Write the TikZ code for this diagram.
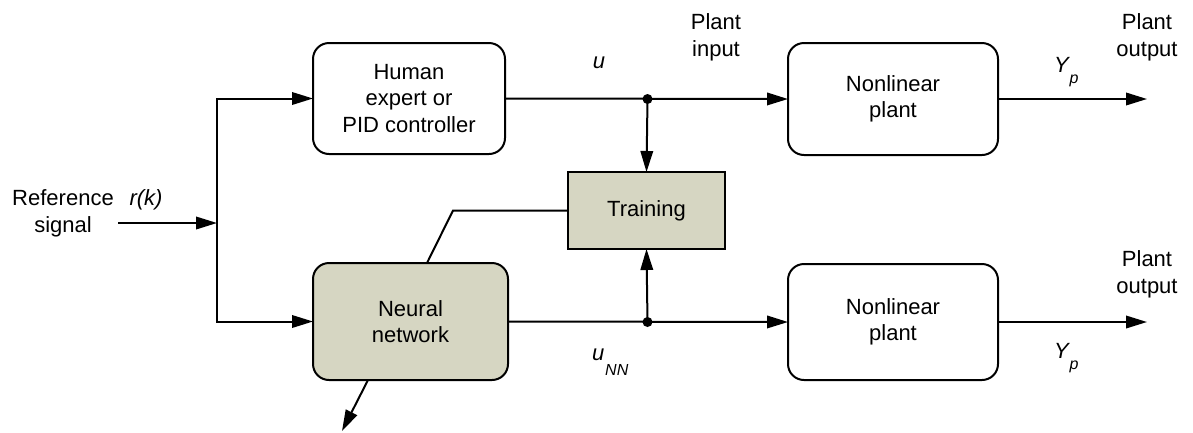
\documentclass[tikz,border=0pt]{standalone}
\usepackage{fontspec}
\setmainfont{Liberation Sans}
\usetikzlibrary{arrows.meta,calc}
\definecolor{tan}{RGB}{214,214,194}
\begin{document}
\begin{tikzpicture}[x=1pt,y=-1pt,
  every node/.style={inner sep=0pt,outer sep=0pt},
  txt/.style={font=\fontsize{22}{26.5}\selectfont,align=center},
  blk/.style={draw,line width=2pt,rounded corners=16pt,txt,fill=white},
  trn/.style={draw,line width=2pt,txt,fill=tan},
  conn/.style={line width=2pt},
  arr/.style={conn,-{Triangle[length=21pt,width=12.5pt]}},
  dotc/.style={fill=black}]
\useasboundingbox (0,0) rectangle (1193,432);
% blocks
\node[blk,minimum width=192pt,minimum height=111pt] (human) at (409,98.5) {Human\\expert or\\PID controller};
\node[blk,fill=tan,minimum width=195pt,minimum height=117pt] (nn) at (410.5,321.5) {Neural\\network};
\node[trn,minimum width=157pt,minimum height=77pt] (train) at (646.5,210.5) {Training};
\node[blk,minimum width=210pt,minimum height=112pt] (plant1) at (893,99) {Nonlinear\\plant};
\node[blk,minimum width=210pt,minimum height=116pt] (plant2) at (893,322) {Nonlinear\\plant};
% coordinates
\coordinate (rin) at (118,223);
\coordinate (split) at (217,223);
\coordinate (d1) at (647.5,99);
\coordinate (d2) at (647.5,322);
\coordinate (out1) at (1147,99);
\coordinate (out2) at (1147,322);
\coordinate (nnout) at (342,431);
\coordinate (bend) at (453,210.5);
% connectors
\draw[arr] (rin) -- (split);
\draw[arr] (split) |- (human.west);
\draw[arr] (split) |- (nn.west);
\draw[arr] (human.east) -- (plant1.west);
\draw[arr] (nn.east) -- (plant2.west);
\draw[arr] (d1) -- (train.north);
\draw[arr] (d2) -- (train.south);
\draw[arr] (plant1.east) -- (out1);
\draw[arr] (plant2.east) -- (out2);
\draw[arr] ($(nn.south)+(-42.5,0)$) -- (nnout);
\draw[conn] (train.west) -- (bend) -- ($(nn.north)+(16.5,0)$);
\fill[dotc] (d1) circle (5pt);
\fill[dotc] (d2) circle (5pt);
% labels
\node[txt] (reflbl) at (63,213.5) {Reference\\signal};
\node[txt,anchor=base,font=\fontsize{22}{26.5}\selectfont\itshape] (rk) at (146,205) {r(k)};
\node[txt,anchor=base,font=\fontsize{22}{26.5}\selectfont\itshape] (ulbl) at (599,68) {u};
\node[txt,anchor=base west,font=\fontsize{22}{26.5}\selectfont\itshape] (unn) at (592,360) {u\hspace{1pt}\raisebox{-15pt}{\fontsize{16}{16}\selectfont NN}};
\node[txt] (pin) at (716,37.5) {Plant\\input};
\node[txt] (pout1) at (1147,37.5) {Plant\\output};
\node[txt] (pout2) at (1147,274.5) {Plant\\output};
\node[txt,anchor=base west,font=\fontsize{22}{26.5}\selectfont\itshape] (yp1) at (1054,72) {Y\hspace{1pt}\raisebox{-11pt}{\fontsize{16}{16}\selectfont p}};
\node[txt,anchor=base west,font=\fontsize{22}{26.5}\selectfont\itshape] (yp2) at (1054,358) {Y\hspace{1pt}\raisebox{-11pt}{\fontsize{16}{16}\selectfont p}};
\end{tikzpicture}
\end{document}
